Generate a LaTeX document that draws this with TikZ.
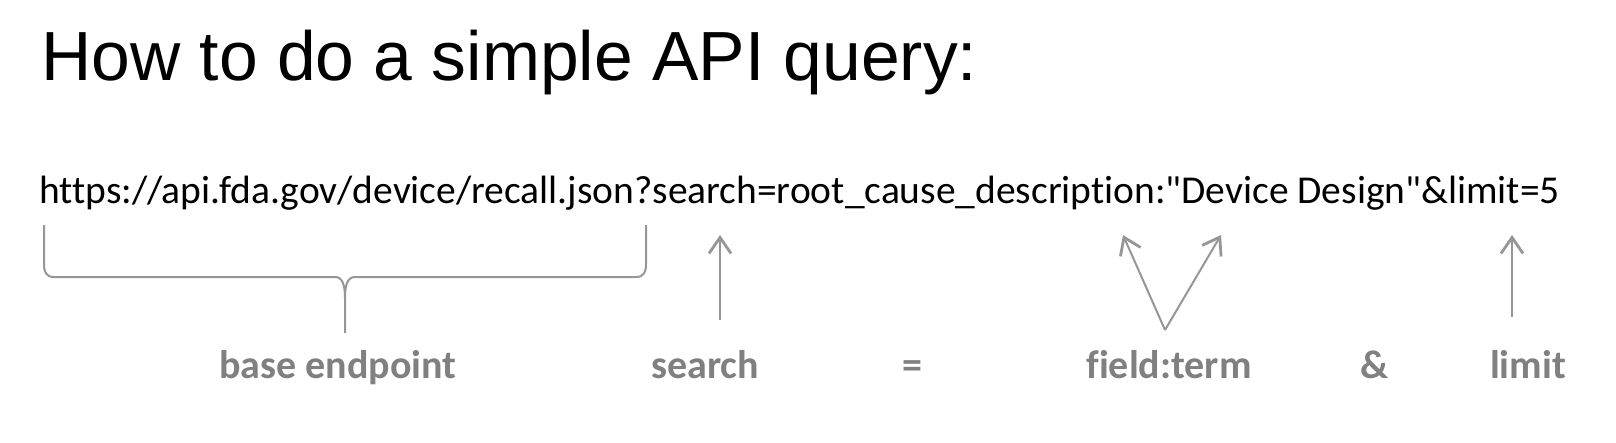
\documentclass[tikz,border=0pt]{standalone}
\usepackage{fontspec}
\newfontfamily\titlefont{Liberation Sans}
\newfontfamily\calfont[Ligatures=NoCommon]{Carlito}
\usetikzlibrary{arrows.meta}
\definecolor{labelgray}{RGB}{128,128,128}
\definecolor{linegray}{RGB}{150,150,150}
\tikzset{
  lbl/.style={anchor=base,inner sep=0pt,text=labelgray,font=\calfont\bfseries\fontsize{40}{48}\selectfont},
  conn/.style={draw=linegray,line width=2pt,-{Straight Barb[length=16pt,width=22pt,line width=2.8pt]}},
  brace/.style={draw=linegray,line width=2pt},
}
\begin{document}
\begin{tikzpicture}[x=1pt,y=-1pt]
\useasboundingbox (0,0) rectangle (1616,442);
\node[anchor=base west,inner sep=0pt,font=\titlefont\fontsize{69.6}{80}\selectfont] (title) at (41,80) {How to do a simple API query:};
\node[anchor=base west,inner sep=0pt,font=\calfont\fontsize{39.5}{47}\selectfont] (url) at (39,203) {https://api.fda.gov/device/recall.json?search=root\_cause\_description:"Device Design"\&limit=5};
\node[lbl] (base) at (338,378) {base endpoint};
\node[lbl] (search) at (705,378) {search};
\node[lbl] (eq) at (912,378) {=};
\node[lbl] (field) at (1169,378) {field:term};
\node[lbl] (amp) at (1375,378) {\&};
\node[lbl] (limit) at (1528,378) {limit};
% coordinates
\coordinate (sFrom) at (720,320);
\coordinate (sTo) at (720,235);
\coordinate (fFrom) at (1165,330);
\coordinate (fToA) at (1123,235);
\coordinate (fToB) at (1221,235);
\coordinate (lFrom) at (1512,317);
\coordinate (lTo) at (1512,235);
\coordinate (bL) at (44,225);
\coordinate (bR) at (646,225);
\coordinate (bTip) at (345,333);
\draw[brace] (bL) -- (44,264) .. controls (44,272) and (46,277) .. (54,277) -- (335,277)
  .. controls (342,277) and (345,284) .. (345,298) -- (bTip);
\draw[brace] (bR) -- (646,264) .. controls (646,272) and (644,277) .. (636,277) -- (355,277)
  .. controls (348,277) and (345,284) .. (345,298);
\draw[conn] (sFrom) -- (sTo);
\draw[conn] (fFrom) -- (fToA);
\draw[conn] (fFrom) -- (fToB);
\draw[conn] (lFrom) -- (lTo);
\end{tikzpicture}
\end{document}
